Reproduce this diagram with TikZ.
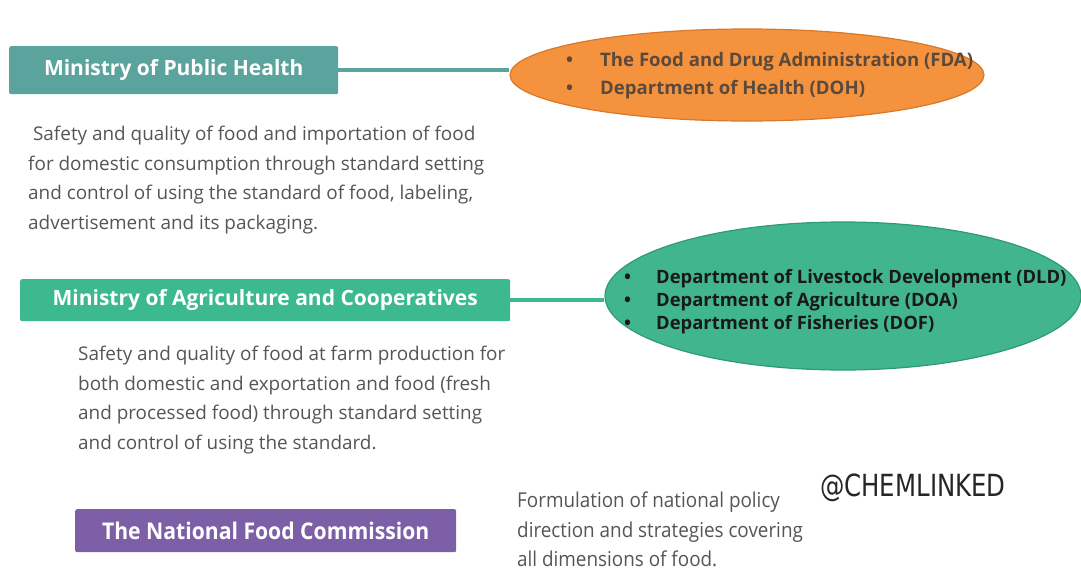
\documentclass[tikz,border=0pt]{standalone}
\usepackage{fontspec}
\setmainfont{Open Sans}
\newfontfamily\narrowfont[FakeStretch=0.92]{Open Sans}
\newfontfamily\logofont[FakeStretch=0.8]{DejaVu Sans}
\usetikzlibrary{shapes.geometric}
\definecolor{healthteal}{HTML}{5BA39D}
\definecolor{agrigreen}{HTML}{3DB98F}
\definecolor{commpurple}{HTML}{7D5FA8}
\definecolor{fdaorange}{HTML}{F5923E}
\definecolor{fdaedge}{HTML}{D9782A}
\definecolor{dldgreen}{HTML}{41B58E}
\definecolor{dldedge}{HTML}{2F9A76}
\definecolor{bodygray}{HTML}{555555}
\definecolor{fdatext}{HTML}{5B4A3C}
\tikzset{
  ministry/.style={rounded corners=2pt, text=white, font=\fontsize{21}{24}\selectfont\bfseries, anchor=north west, inner sep=0pt},
  agency/.style={ellipse, inner sep=0pt, line width=1.2pt},
  bodytext/.style={text=bodygray, align=left, anchor=north west, inner sep=0pt, font=\fontsize{18.9}{29.5}\selectfont},
  link/.style={line width=4pt}
}
\begin{document}
\begin{tikzpicture}[x=1pt,y=-1pt]
\useasboundingbox (0,0) rectangle (1081,571);

% Ministry of Public Health and its agencies
\node[ministry, fill=healthteal, minimum width=329, minimum height=48] (mph) at (9,46) {Ministry of Public Health};
\node[agency, fill=fdaorange, draw=fdaedge, minimum width=474, minimum height=92] (fda) at (747,75) {};
\draw[link, healthteal] (mph.east) -- (mph.east -| fda.west);
\node[anchor=north west, inner sep=0pt, align=left, text=fdatext, font=\fontsize{18.6}{28}\selectfont\bfseries] (fdalist) at (566,52)
  {\makebox[34pt][l]{\textbullet}The Food and Drug Administration (FDA)\\
   \makebox[34pt][l]{\textbullet}Department of Health (DOH)};
\node[bodytext] (mphtext) at (28,126)
  {\ Safety and quality of food and importation of food\\
   for domestic consumption through standard setting\\
   and control of using the standard of food, labeling,\\
   advertisement and its packaging.};

% Ministry of Agriculture and Cooperatives and its agencies
\node[ministry, fill=agrigreen, minimum width=490, minimum height=42] (moac) at (20,279) {Ministry of Agriculture and Cooperatives};
\node[agency, fill=dldgreen, draw=dldedge, minimum width=476, minimum height=148] (dld) at (843,296) {};
\draw[link, agrigreen] (moac.east) -- (moac.east -| dld.west);
\node[anchor=north west, inner sep=0pt, align=left, text=black!90, font=\fontsize{18.4}{23}\selectfont\bfseries] (dldlist) at (624,269)
  {\makebox[32pt][l]{\textbullet}Department of Livestock Development (DLD)\\
   \makebox[32pt][l]{\textbullet}Department of Agriculture (DOA)\\
   \makebox[32pt][l]{\textbullet}Department of Fisheries (DOF)};
\node[bodytext] (moactext) at (78,346)
  {Safety and quality of food at farm production for\\
   both domestic and exportation and food (fresh\\
   and processed food) through standard setting\\
   and control of using the standard.};

% The National Food Commission
\node[ministry, fill=commpurple, minimum width=381, minimum height=43, font=\narrowfont\fontsize{23}{26}\selectfont\bfseries] (nfc) at (75,509) {The National Food Commission};
\node[bodytext, font=\narrowfont\fontsize{20.5}{29.5}\selectfont] (nfctext) at (517,492)
  {Formulation of national policy\\
   direction and strategies covering\\
   all dimensions of food.};

% Watermark
\node[anchor=west, inner sep=0pt, text=black!85, font=\logofont\fontsize{30.5}{30}\selectfont] (logo) at (820,488) {@CHEMLINKED};
\end{tikzpicture}
\end{document}
